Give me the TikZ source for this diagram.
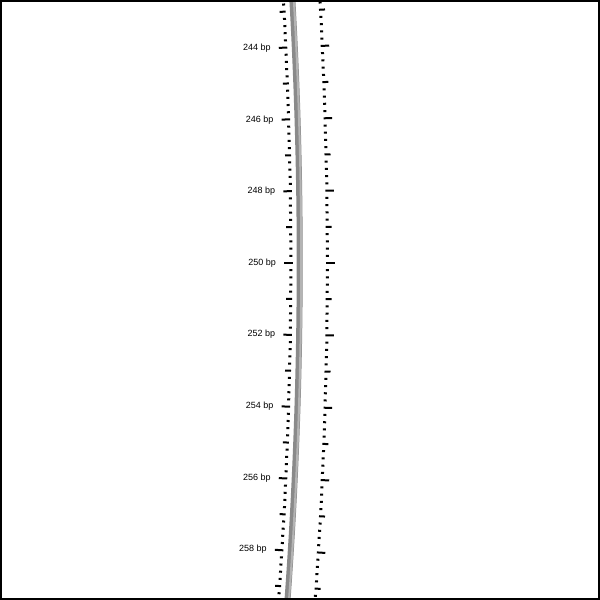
\documentclass[tikz,border=0pt]{standalone}
\usepackage{fontspec}
\setmainfont{Liberation Sans}
\definecolor{strand-gray}{HTML}{8A8A8A}
\definecolor{strand-light}{HTML}{B4B4B4}

\begin{document}
\begin{tikzpicture}[x=1pt, y=-1pt]
  \useasboundingbox (0,0) rectangle (600,600);
  \begin{scope}
    \clip (0,0) rectangle (600,600);
    \begin{scope}[shift={(-4350,263)}]
      % backbone arc
      \draw[line width=6pt, color=strand-gray] (-3.5:4650) arc[start angle=-3.5, end angle=4.4, radius=4650];
      \draw[line width=2pt, color=strand-light] (-3.5:4651.5) arc[start angle=-3.5, end angle=4.4, radius=4651.5];
      % ticks every 0.2 bp
      \foreach \n in {1212,...,1298} {
        \pgfmathsetmacro{\ang}{(\n/5-250)*0.44358}
        \pgfmathsetmacro{\len}{ifthenelse(mod(\n,10)==0,8.5,ifthenelse(mod(\n,5)==0,6,3))}
        \draw[line width=2pt] (\ang:4642.5) -- (\ang:{4642.5-\len});
        \draw[line width=2pt] (\ang:4676) -- (\ang:{4676+\len});
      }
      \foreach \b in {244,246,...,258}
        \node[anchor=east, inner sep=0pt, font=\fontsize{9}{9}\selectfont]
          (lbl\b) at ({(\b-250)*0.44358}:4626) {\b{} bp};
    \end{scope}
  \end{scope}
  \draw[line width=2pt] (1,1) rectangle (599,599);
\end{tikzpicture}
\end{document}
